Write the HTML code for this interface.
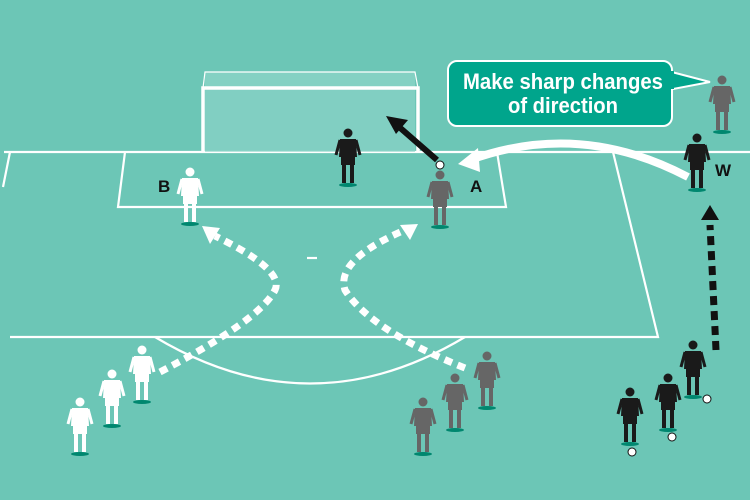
<!DOCTYPE html>
<html><head><style>body{margin:0}svg{display:block}</style></head><body>
<svg width="750" height="500" viewBox="0 0 750 500" xmlns="http://www.w3.org/2000/svg" font-family="Liberation Sans, sans-serif">
<rect width="750" height="500" fill="#6cc6b6"/>
<g stroke="#fff" stroke-width="2.2" fill="none">
<line x1="4" y1="152" x2="750" y2="152"/>
<line x1="10" y1="152" x2="3" y2="187"/>
<polyline points="125,152 118,207 506,207 497,152"/>
<polyline points="613,152 658,337 10,337"/>
<path d="M155,337 Q310,430 465,337"/>
<line x1="307" y1="258" x2="317" y2="258"/>
</g>
<rect x="205" y="72" width="210" height="16" fill="#8fd6c9" opacity="0.7"/>
<rect x="205" y="88" width="210" height="64" fill="#8fd6c9" opacity="0.6"/>
<g stroke="#fff" fill="none">
<polyline points="203,152 203,88 418,88 418,152" stroke-width="3.5"/>
<polyline points="203,88 205,72 415,72 418,88" stroke-width="1.2"/>
</g>
<path d="M664,70 L710,82 L668,90 Z" fill="#00a58c" stroke="#fff" stroke-width="2"/>
<rect x="448" y="61" width="224" height="65" rx="9" fill="#00a58c" stroke="#fff" stroke-width="2"/>
<rect x="660" y="71" width="14" height="18" fill="#00a58c"/>
<text x="463" y="89" textLength="200" lengthAdjust="spacingAndGlyphs" fill="#fff" font-size="22" font-weight="bold">Make sharp changes</text>
<text x="508" y="113" textLength="110" lengthAdjust="spacingAndGlyphs" fill="#fff" font-size="22" font-weight="bold">of direction</text>
<path d="M688,177 Q580,120 470,160" stroke="#fff" stroke-width="8" fill="none"/>
<polygon points="458,164 478,148 480,172" fill="#fff"/>
<line x1="437" y1="160" x2="398" y2="126" stroke="#111" stroke-width="6"/>
<polygon points="386,116 408,120 396,134" fill="#111"/>
<path d="M716,350 L710,225" stroke="#111" stroke-width="7" stroke-dasharray="9,6" fill="none"/>
<polygon points="701,220 710,205 719,220" fill="#111"/>
<g stroke="#fff" stroke-width="7" stroke-dasharray="8,6" fill="none">
<path d="M160,372 Q260,320 275,290 Q285,270 215,236"/>
<path d="M465,368 Q370,330 345,290 Q335,260 405,230"/>
</g>
<polygon points="202,226 220,228 210,244" fill="#fff"/>
<polygon points="418,224 410,240 400,225" fill="#fff"/>
<g font-weight="bold" font-size="17" fill="#111">
<text x="158" y="192">B</text><text x="470" y="192">A</text><text x="715" y="176">W</text>
</g>
<defs>
<g id="p">
<ellipse cx="0" cy="52" rx="9" ry="2" fill="#00876f"/>
<circle cx="0" cy="0" r="4.5"/>
<path d="M-8,6 L8,6 L9,24 L-9,24 Z"/>
<path d="M-8,7 L-12,22 M8,7 L12,22" stroke-width="3" stroke="currentColor"/>
<rect x="-7" y="24" width="14" height="8"/>
<rect x="-6" y="32" width="4" height="18"/><rect x="2" y="32" width="4" height="18"/>
</g>
</defs>
<g fill="#fff" color="#fff">
<use href="#p" x="190" y="172"/>
<use href="#p" x="80" y="402"/><use href="#p" x="112" y="374"/><use href="#p" x="142" y="350"/>
</g>
<g fill="#666" color="#666">
<use href="#p" x="440" y="175"/>
<use href="#p" x="423" y="402"/><use href="#p" x="455" y="378"/><use href="#p" x="487" y="356"/>
<use href="#p" x="722" y="80"/>
</g>
<g fill="#1a1a1a" color="#1a1a1a">
<use href="#p" x="348" y="133"/>
<use href="#p" x="697" y="138"/>
<use href="#p" x="630" y="392"/><use href="#p" x="668" y="378"/><use href="#p" x="693" y="345"/>
</g>
<g fill="#fff" stroke="#111" stroke-width="1">
<circle cx="440" cy="165" r="4"/><circle cx="707" cy="399" r="4"/><circle cx="672" cy="437" r="4"/><circle cx="632" cy="452" r="4"/>
</g>
</svg>
</body></html>
